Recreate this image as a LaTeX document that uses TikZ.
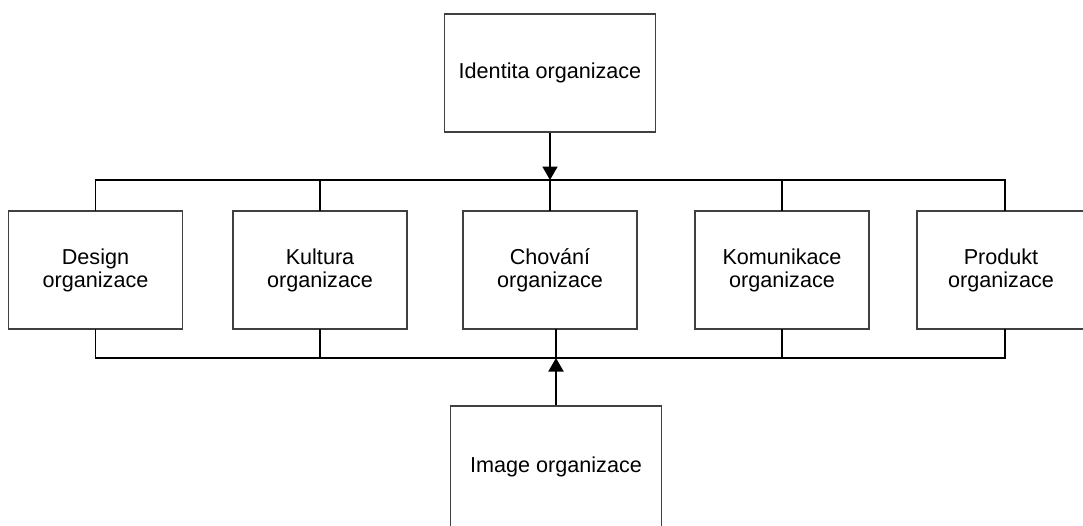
\documentclass[tikz,border=0pt]{standalone}
\usepackage{fontspec}
\setmainfont{Liberation Sans}
\usetikzlibrary{arrows.meta, positioning}
\tikzset{
		part/.style={draw=black!75, line width=0.7pt, align=center,
			minimum width=3.48cm, minimum height=2.36cm, inner sep=2pt,
			font=\fontsize{12.3}{13}\selectfont},
		wide part/.style={part, minimum width=4.22cm},
		bus/.style={line width=1.1pt, line cap=rect}
	}

\begin{document}
\begin{tikzpicture}[x=0.02cm, y=-0.02cm, >={Triangle[width=3mm,length=2.7mm]}]
				\useasboundingbox (0,0) rectangle (1083,525);
				\clip (0,0) rectangle (1083,525);
				% vrchni a spodni blok
				\node[wide part] (identita) at (550,73)  {Identita organizace};
				\node[wide part, minimum height=2.44cm] (image) at (556,467) {Image organizace};
				% prostredni rada
				\node[part] (design)     at (95.5,270) {Design\\organizace};
				\node[part] (kultura)    at (320,270)  {Kultura\\organizace};
				\node[part] (chovani)    at (550,270)  {Chování\\organizace};
				\node[part] (komunikace) at (782,270)  {Komunikace\\organizace};
				\node[part, minimum width=3.36cm] (produkt) at (1001,270) {Produkt\\organizace};

				\coordinate (topbus) at (0,180);
				\coordinate (botbus) at (0,358);

				% horni sbernice
				\draw[bus] (design.north) -- (design.north |- topbus) -| ([xshift=0.08cm]produkt.north);
				\draw[bus] (kultura.north) -- (kultura.north |- topbus);
				\draw[bus] (komunikace.north) -- (komunikace.north |- topbus);
				\draw[bus] (identita.south |- topbus) -- (chovani.north);
				\draw[bus, ->, line cap=butt] (identita.south) -- (identita.south |- topbus);

				% spodni sbernice
				\draw[bus] (design.south) -- (design.south |- botbus) -| ([xshift=0.08cm]produkt.south);
				\draw[bus] (kultura.south) -- (kultura.south |- botbus);
				\draw[bus] (komunikace.south) -- (komunikace.south |- botbus);
				\draw[bus] (image.north |- botbus) -- (image.north |- chovani.south);
				\draw[bus, ->, line cap=butt] (image.north) -- (image.north |- botbus);
			\end{tikzpicture}
\end{document}
